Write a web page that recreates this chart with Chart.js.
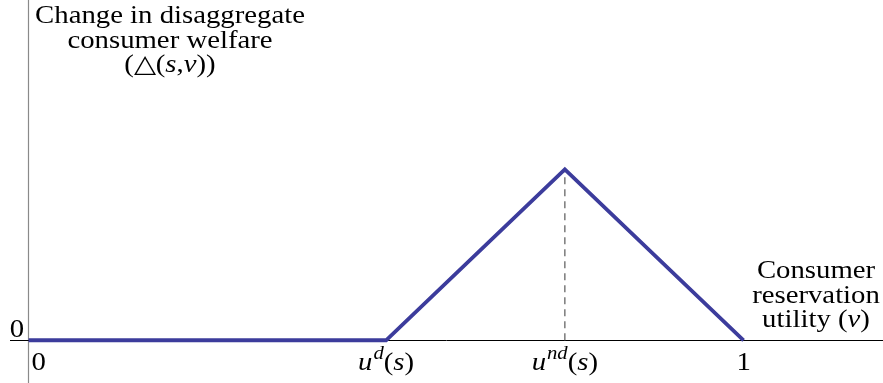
<!DOCTYPE html>
<html>
<head>
<script src="https://cdn.jsdelivr.net/npm/chart.js@4.4.1/dist/chart.umd.min.js"></script>
<title>Change in disaggregate consumer welfare</title>
<style>
  body { margin: 0; background: #fff; }
  #wrap { width: 883px; height: 383px; }
</style>
</head>
<body>
<div id="wrap"><canvas id="welfareChart" width="883" height="383"></canvas></div>
<script>
// data: welfare change vs consumer reservation utility
const vValues = [0, 0.5, 0.75, 1];
const welfareValues = [0, 0, 1, 0];
const peakV = 0.75;
const peakWelfare = 1;

// tick labels ( *x* = italic, ^{x} = superscript )
const tickValues = [0, 0.5, 0.75, 1];
const tickLabels = ['0', '*u*^{d}(*s*)', '*u*^{nd}(*s*)', '1'];
const yTickLabel = '0';
const yTitleLines = ['Change in disaggregate', 'consumer welfare', '(\u25B3(*s*,*v*))'];
const xTitleLines = ['Consumer', 'reservation', 'utility (*v*)'];

const FONT = '"Liberation Serif", "Times New Roman", serif';
const SIZE = 25;
const STRETCH = 1.15; // text in the original is drawn wider than it is tall

// split markup into runs
function parseRuns(str) {
  var runs = [], italic = false, i = 0, buf = '';
  function flush(sup) { if (buf) { runs.push({ t: buf, italic: italic || sup, sup: sup }); buf = ''; } }
  while (i < str.length) {
    var c = str[i];
    if (c === '*') { flush(false); italic = !italic; i++; }
    else if (c === '^' && str[i + 1] === '{') {
      flush(false);
      var end = str.indexOf('}', i);
      buf = str.slice(i + 2, end);
      flush(true);
      i = end + 1;
    } else { buf += c; i++; }
  }
  flush(false);
  return runs;
}

function runFont(r) {
  var size = r.sup ? Math.round(SIZE * 0.72) : SIZE;
  return (r.italic ? 'italic ' : '') + size + 'px ' + FONT;
}

function drawMarkup(ctx, str, x, y, align) {
  var runs = parseRuns(str);
  var total = 0;
  runs.forEach(function (r) {
    ctx.font = runFont(r);
    r.w = ctx.measureText(r.t).width * STRETCH + (r.sup ? 1 : 0);
    total += r.w;
  });
  var cx = align === 'center' ? x - total / 2 : (align === 'right' ? x - total : x);
  ctx.textAlign = 'left';
  ctx.textBaseline = 'alphabetic';
  runs.forEach(function (r) {
    ctx.font = runFont(r);
    ctx.save();
    ctx.translate(cx + (r.sup ? 1 : 0), r.sup ? y - 11 : y);
    ctx.scale(STRETCH, 1);
    ctx.fillText(r.t, 0, 0);
    ctx.restore();
    cx += r.w;
  });
}

// axes, dashed guide and text
const axesPlugin = {
  id: 'axesPlugin',
  beforeDatasetsDraw(chart) {
    var ctx = chart.ctx, xs = chart.scales.x, ys = chart.scales.y;
    var x0 = Math.round(xs.getPixelForValue(0)) - 0.5;
    var y0 = Math.round(ys.getPixelForValue(0)) + 0.5;
    ctx.save();
    // y axis
    ctx.strokeStyle = '#8a8a8a';
    ctx.lineWidth = 1.2;
    ctx.beginPath(); ctx.moveTo(x0, 0); ctx.lineTo(x0, chart.height); ctx.stroke();
    // x axis
    ctx.strokeStyle = '#000';
    ctx.lineWidth = 1;
    ctx.beginPath(); ctx.moveTo(10, y0); ctx.lineTo(chart.width, y0); ctx.stroke();
    ctx.restore();
  },
  afterDatasetsDraw(chart) {
    var ctx = chart.ctx, xs = chart.scales.x, ys = chart.scales.y;
    var y0 = ys.getPixelForValue(0);
    ctx.save();
    ctx.fillStyle = '#000';
    // tick labels under the axis
    tickValues.forEach(function (v, i) {
      var px = xs.getPixelForValue(v);
      if (v === 0) px += 10;
      drawMarkup(ctx, tickLabels[i], px, y0 + 30, 'center');
    });
    drawMarkup(ctx, yTickLabel, 17, y0 - 3, 'center');
    yTitleLines.forEach(function (l, i) { drawMarkup(ctx, l, 170, 23 + i * 24.5, 'center'); });
    xTitleLines.forEach(function (l, i) { drawMarkup(ctx, l, 816, 278 + i * 24.5, 'center'); });
    ctx.restore();
  }
};

new Chart(document.getElementById('welfareChart'), {
  type: 'scatter',
  data: {
    datasets: [
      {
        label: 'guide',
        data: [{ x: peakV, y: 0 }, { x: peakV, y: peakWelfare }],
        showLine: true,
        borderColor: '#7a7a7a',
        borderWidth: 1.5,
        borderDash: [7, 5],
        pointRadius: 0,
        order: 2
      },
      {
        label: 'welfare',
        data: vValues.map(function (v, i) { return { x: v, y: welfareValues[i] }; }),
        showLine: true,
        borderColor: '#3c3c9c',
        borderWidth: 3.8,
        borderJoinStyle: 'miter',
        pointRadius: 0,
        order: 1
      }
    ]
  },
  options: {
    responsive: false,
    animation: false,
    devicePixelRatio: 1,
    layout: { padding: 0 },
    scales: {
      x: { type: 'linear', min: -0.04, max: 1.195, display: false },
      y: { type: 'linear', min: -0.25, max: 1.99, display: false }
    },
    plugins: { legend: { display: false }, tooltip: { enabled: false } }
  },
  plugins: [axesPlugin]
});
</script>
</body>
</html>
